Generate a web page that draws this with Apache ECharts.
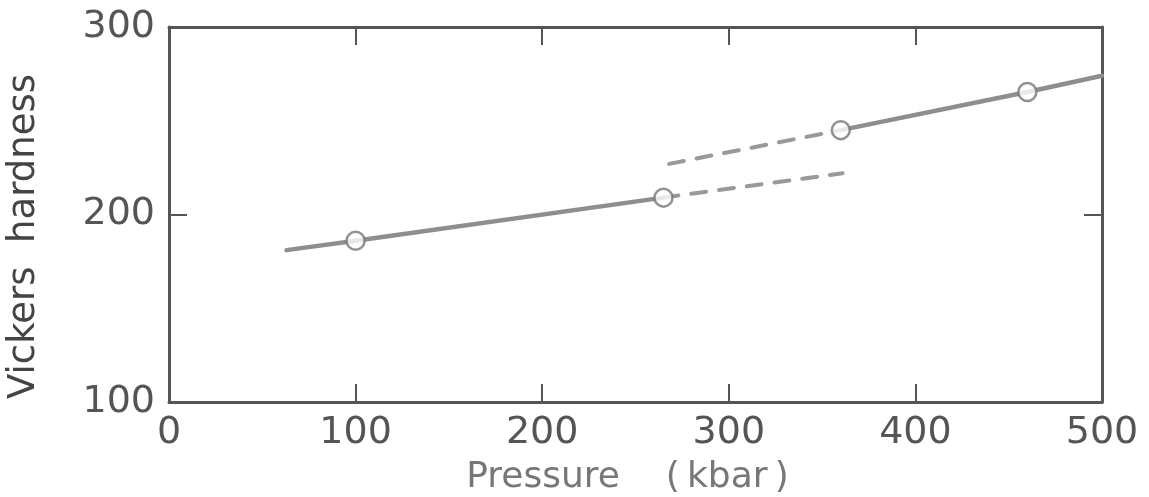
<!DOCTYPE html>
<html>
<head>
<meta charset="utf-8">
<script src="https://cdn.jsdelivr.net/npm/echarts@6/dist/echarts.min.js"></script>
<style>html,body{margin:0;padding:0;background:#fff;}#c{width:1149px;height:497px;}</style>
</head>
<body>
<div id="c"></div>
<script>
// Data
const xTicks = [0, 100, 200, 300, 400, 500];
const yTicks = [100, 200, 300];
const lowerSolidX = [63, 100, 265];
const lowerSolidY = [181, 186, 209];
const upperSolidX = [360, 460, 500];
const upperSolidY = [245, 265.3, 274];
const lowerDashX = [265, 361];
const lowerDashY = [209, 222];
const upperDashX = [268, 360];
const upperDashY = [227, 245];
const pointX = [100, 265, 360, 460];
const pointY = [186, 209, 245, 265.3];

const zip = (xs, ys) => xs.map((x, i) => [x, ys[i]]);

const font = 'DejaVu Sans';
const axisColor = '#555';
const lineColor = '#8e8e8e';

const chart = echarts.init(document.getElementById('c'), null, {renderer: 'canvas'});
const baseX = {
  type: 'value', min: 0, max: 500, interval: 100,
  axisLine: {show: true, onZero: false, lineStyle: {color: axisColor, width: 3}},
  axisTick: {show: true, inside: true, length: 18, lineStyle: {color: axisColor, width: 2}},
  splitLine: {show: false}
};
const baseY = {
  type: 'value', min: 100, max: 300, interval: 100,
  axisLine: {show: true, onZero: false, lineStyle: {color: axisColor, width: 3}},
  axisTick: {show: true, inside: true, length: 18, lineStyle: {color: axisColor, width: 2}},
  splitLine: {show: false}
};
chart.setOption({
  animation: false,
  backgroundColor: '#fff',
  grid: {left: 169, top: 27, right: 47, bottom: 95, containLabel: false, outerBoundsMode: 'none'},
  xAxis: [
    Object.assign({}, baseX, {
      position: 'bottom',
      name: 'Pressure    (\u2009kbar\u2009)', nameLocation: 'middle', nameGap: 58,
      nameTextStyle: {fontFamily: font, fontSize: 36, color: '#777', padding: [0, 16, 0, 0]},
      axisLabel: {fontFamily: font, fontSize: 38, color: '#555', margin: 12,
        formatter: v => xTicks.includes(v) ? String(v) : ''}
    }),
    Object.assign({}, baseX, {position: 'top', axisLabel: {show: false}})
  ],
  yAxis: [
    Object.assign({}, baseY, {
      position: 'left',
      name: 'Vickers  hardness', nameLocation: 'middle', nameGap: 126,
      nameTextStyle: {fontFamily: font, fontSize: 37, color: '#444', padding: [0, 44, 0, 0]},
      axisLabel: {fontFamily: font, fontSize: 38, color: '#555', margin: 14,
        formatter: v => yTicks.includes(v) ? String(v) : ''}
    }),
    Object.assign({}, baseY, {position: 'right', axisLabel: {show: false}})
  ],
  series: [
    {type: 'line', data: zip(lowerSolidX, lowerSolidY), showSymbol: false, symbol: 'none',
      lineStyle: {color: lineColor, width: 4.5, cap: 'round'}, z: 2},
    {type: 'line', data: zip(upperSolidX, upperSolidY), showSymbol: false, symbol: 'none',
      lineStyle: {color: lineColor, width: 4.5, cap: 'round'}, z: 2},
    {type: 'line', data: zip(lowerDashX, lowerDashY), showSymbol: false, symbol: 'none',
      lineStyle: {color: '#999', width: 4, type: [15, 13], cap: 'round'}, z: 2},
    {type: 'line', data: zip(upperDashX, upperDashY), showSymbol: false, symbol: 'none',
      lineStyle: {color: '#999', width: 4, type: [15, 13], cap: 'round'}, z: 2},
    {type: 'scatter', data: zip(pointX, pointY), symbol: 'circle', symbolSize: 18,
      itemStyle: {color: '#fff', borderColor: '#777', borderWidth: 2.5}, z: 5}
  ]
});
</script>
</body>
</html>
